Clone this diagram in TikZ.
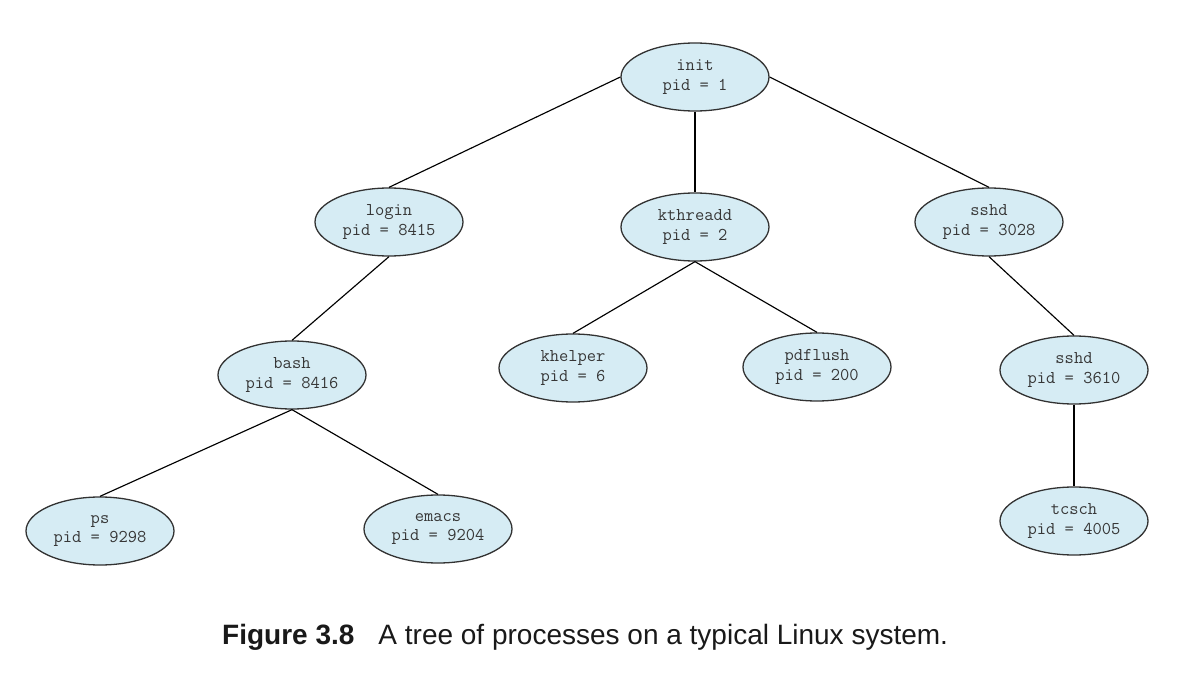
\documentclass[tikz,border=0pt]{standalone}
\usepackage{fontspec}
\setmainfont{Liberation Sans}
\usetikzlibrary{shapes.geometric}
\definecolor{procfill}{RGB}{214,236,244}
\definecolor{procline}{RGB}{50,50,50}
\definecolor{proctext}{RGB}{55,55,55}
\tikzset{
  proc/.style={ellipse, draw=procline, line width=1.3pt, fill=procfill,
    minimum width=148pt, minimum height=68pt, inner sep=0pt, align=center,
    text=proctext, font=\ttfamily\fontsize{18}{19.5}\selectfont},
  edge/.style={draw=black, line width=1.15pt},
  caption/.style={anchor=base west, inner sep=0pt, font=\fontsize{28}{32}\selectfont, text=black!90}
}
\begin{document}
\begin{tikzpicture}[x=1pt,y=-1pt]
\useasboundingbox (0,0) rectangle (1200,690);
\node[proc] (init) at (695,77) {init\\pid = 1};
\node[proc] (login) at (389,222) {login\\pid = 8415};
\node[proc] (kthreadd) at (695,227) {kthreadd\\pid = 2};
\node[proc] (sshdA) at (989,222) {sshd\\pid = 3028};
\node[proc] (bash) at (292,375) {bash\\pid = 8416};
\node[proc] (khelper) at (573,368) {khelper\\pid = 6};
\node[proc] (pdflush) at (817,367) {pdflush\\pid = 200};
\node[proc] (sshdB) at (1074,370) {sshd\\pid = 3610};
\node[proc] (ps) at (100,531) {ps\\pid = 9298};
\node[proc] (emacs) at (438,529) {emacs\\pid = 9204};
\node[proc] (tcsch) at (1074,521) {tcsch\\pid = 4005};
\draw[edge] (init.west) -- (login.north);
\draw[edge] (init.south) -- (kthreadd.north);
\draw[edge] (init.east) -- (sshdA.north);
\draw[edge] (login.south) -- (bash.north);
\draw[edge] (bash.south) -- (ps.north);
\draw[edge] (bash.south) -- (emacs.north);
\draw[edge] (kthreadd.south) -- (khelper.north);
\draw[edge] (kthreadd.south) -- (pdflush.north);
\draw[edge] (sshdA.south) -- (sshdB.north);
\draw[edge] (sshdB.south) -- (tcsch.north);
\node[caption] (cap) at (222,644) {\textbf{Figure 3.8}\hspace{24pt}A tree of processes on a typical Linux system.};
\end{tikzpicture}
\end{document}
